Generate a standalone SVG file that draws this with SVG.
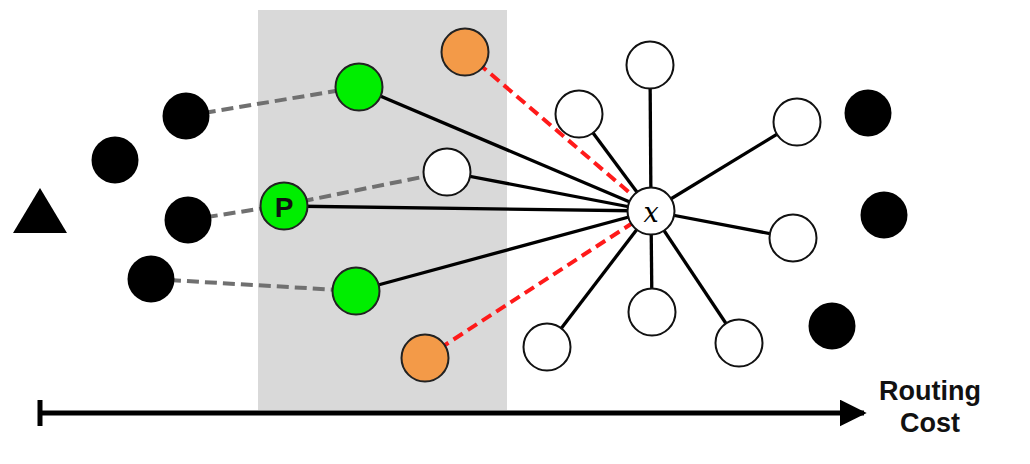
<svg xmlns="http://www.w3.org/2000/svg" width="1030" height="464" viewBox="0 0 1030 464">
<defs>
<style>
.blk{fill:#000;}
.wht{fill:#fff;stroke:#111;stroke-width:2;}
.grn{fill:#00ee00;stroke:#222;stroke-width:2;}
.org{fill:#f39a48;stroke:#222;stroke-width:2;}
.solid{stroke:#000;stroke-width:3.3;fill:none;}
.red{stroke:#ff1a1a;stroke-width:4;stroke-dasharray:11 6;fill:none;}
.gray{stroke:#707070;stroke-width:4;stroke-dasharray:12 6;fill:none;}
.lbl{font-family:"Liberation Sans",Arial,sans-serif;font-weight:bold;fill:#111;text-anchor:middle;}
</style>
<marker id="ah" viewBox="0 0 10 10" refX="9" refY="5" markerWidth="5.4" markerHeight="5.4" markerUnits="strokeWidth" orient="auto">
<path d="M0,0 L10,5 L0,10 z" fill="#000"/>
</marker>
</defs>
<rect width="1030" height="464" fill="#fff"/>
<rect id="region" x="258" y="10" width="249" height="400" fill="#d9d9d9"/>

<g id="connectors">
<line class="gray" x1="186" y1="116" x2="359" y2="87"/>
<line class="gray" x1="284" y1="205" x2="447" y2="172"/>
<line class="gray" x1="188" y1="220" x2="284" y2="205"/>
<line class="gray" x1="151" y1="279" x2="356" y2="291"/>
<line class="red" x1="465" y1="52" x2="651" y2="211"/>
<line class="red" x1="425" y1="358" x2="651" y2="211"/>
<line class="solid" x1="359" y1="87" x2="651" y2="211"/>
<line class="solid" x1="447" y1="172" x2="651" y2="211"/>
<line class="solid" x1="284" y1="206" x2="651" y2="211"/>
<line class="solid" x1="356" y1="291" x2="651" y2="211"/>
<line class="solid" x1="650" y1="65" x2="651" y2="211"/>
<line class="solid" x1="579" y1="114" x2="651" y2="211"/>
<line class="solid" x1="797" y1="122" x2="651" y2="211"/>
<line class="solid" x1="793" y1="238" x2="651" y2="211"/>
<line class="solid" x1="547" y1="347" x2="651" y2="211"/>
<line class="solid" x1="652" y1="312" x2="651" y2="211"/>
<line class="solid" x1="739" y1="343" x2="651" y2="211"/>
</g>

<g id="axis">
<line x1="40" y1="413" x2="864" y2="413" stroke="#000" stroke-width="5" marker-end="url(#ah)"/>
<line x1="40" y1="400" x2="40" y2="426" stroke="#000" stroke-width="5"/>
</g>

<g id="triangle"><polygon class="blk" points="40,188 67,233 13,233"/></g>
<g id="b1"><circle class="blk" cx="186" cy="116" r="23.5"/></g>
<g id="b2"><circle class="blk" cx="115" cy="160" r="23.5"/></g>
<g id="b3"><circle class="blk" cx="188" cy="220" r="23.5"/></g>
<g id="b4"><circle class="blk" cx="151" cy="279" r="23.5"/></g>
<g id="b5"><circle class="blk" cx="868" cy="113" r="23.5"/></g>
<g id="b6"><circle class="blk" cx="884" cy="215" r="23.5"/></g>
<g id="b7"><circle class="blk" cx="832" cy="326" r="23.5"/></g>

<g id="g1"><circle class="grn" cx="359" cy="87" r="23.5"/></g>
<g id="g2"><circle class="grn" cx="356" cy="291" r="23.5"/></g>
<g id="p"><circle class="grn" cx="284" cy="206" r="23.5"/><text class="lbl" x="284" y="217" font-size="28">P</text></g>
<g id="o1"><circle class="org" cx="465" cy="52" r="23.5"/></g>
<g id="o2"><circle class="org" cx="425" cy="358" r="23.5"/></g>
<g id="w0"><circle class="wht" cx="447" cy="172" r="23.5"/></g>
<g id="w1"><circle class="wht" cx="650" cy="65" r="23.5"/></g>
<g id="w2"><circle class="wht" cx="579" cy="114" r="23.5"/></g>
<g id="w3"><circle class="wht" cx="797" cy="122" r="23.5"/></g>
<g id="w4"><circle class="wht" cx="793" cy="238" r="23.5"/></g>
<g id="w5"><circle class="wht" cx="547" cy="347" r="23.5"/></g>
<g id="w6"><circle class="wht" cx="652" cy="312" r="23.5"/></g>
<g id="w7"><circle class="wht" cx="739" cy="343" r="23.5"/></g>
<g id="x"><circle class="wht" cx="651" cy="211" r="23.5"/><text x="651" y="222" font-family="DejaVu Serif,serif" font-style="italic" font-size="27" text-anchor="middle" fill="#000">x</text></g>

<g id="label">
<text class="lbl" x="930" y="400" font-size="27">Routing</text>
<text class="lbl" x="930" y="432" font-size="27">Cost</text>
</g>
</svg>
